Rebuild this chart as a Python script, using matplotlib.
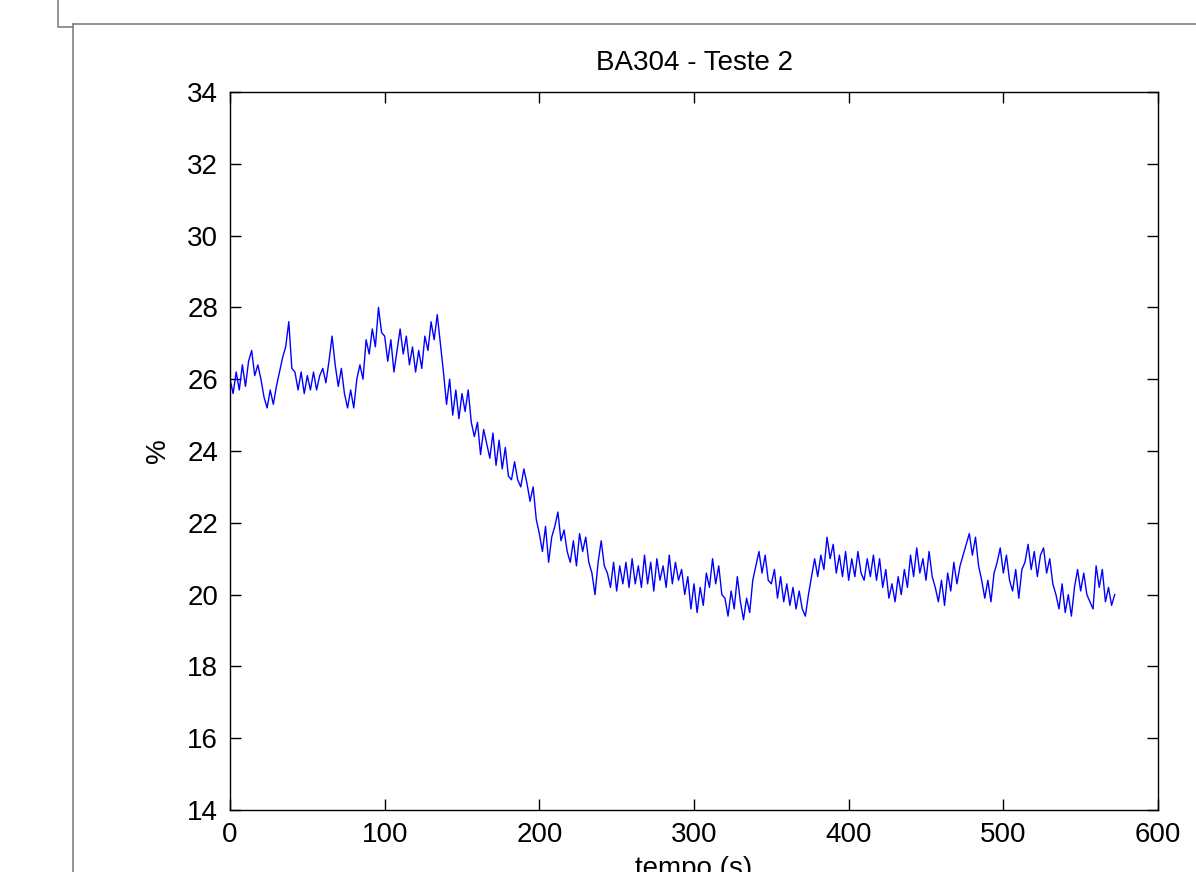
import matplotlib
matplotlib.use("Agg")
import matplotlib.pyplot as plt
from matplotlib.lines import Line2D
import numpy as np

plt.rcParams['font.family'] = ['Liberation Sans', 'DejaVu Sans']

# sampling interval (s) of the read-off series
dt = 2

# % values, one every 2 s starting at t = 0
umidade = [
    26.0, 25.6, 26.2, 25.7, 26.4, 25.8, 26.5, 26.8, 26.1, 26.4,   # 0-18
    26.0, 25.5, 25.2, 25.7, 25.3, 25.8, 26.2, 26.6, 26.9, 27.6,   # 20-38
    26.3, 26.2, 25.7, 26.2, 25.6, 26.1, 25.7, 26.2, 25.7, 26.1,   # 40-58
    26.3, 25.9, 26.5, 27.2, 26.4, 25.8, 26.3, 25.6, 25.2, 25.7,   # 60-78
    25.2, 26.0, 26.4, 26.0, 27.1, 26.7, 27.4, 26.9, 28.0, 27.3,   # 80-98
    27.2, 26.5, 27.1, 26.2, 26.8, 27.4, 26.7, 27.2, 26.4, 26.9,   # 100-118
    26.2, 26.8, 26.3, 27.2, 26.8, 27.6, 27.1, 27.8, 27.0, 26.2,   # 120-138
    25.3, 26.0, 25.0, 25.7, 24.9, 25.6, 25.1, 25.7, 24.8, 24.4,   # 140-158
    24.8, 23.9, 24.6, 24.2, 23.8, 24.5, 23.6, 24.3, 23.5, 24.1,   # 160-178
    23.3, 23.2, 23.7, 23.2, 23.0, 23.5, 23.1, 22.6, 23.0, 22.1,   # 180-198
    21.7, 21.2, 21.9, 20.9, 21.6, 21.9, 22.3, 21.5, 21.8, 21.2,   # 200-218
    20.9, 21.5, 20.8, 21.7, 21.2, 21.6, 20.9, 20.6, 20.0, 20.9,   # 220-238
    21.5, 20.8, 20.6, 20.2, 20.9, 20.1, 20.8, 20.3, 20.9, 20.2,   # 240-258
    21.0, 20.3, 20.8, 20.2, 21.1, 20.3, 20.9, 20.1, 21.0, 20.4,   # 260-278
    20.8, 20.2, 21.1, 20.3, 20.9, 20.4, 20.7, 20.0, 20.5, 19.6,   # 280-298
    20.3, 19.5, 20.2, 19.7, 20.6, 20.2, 21.0, 20.3, 20.8, 20.0,   # 300-318
    19.9, 19.4, 20.1, 19.6, 20.5, 19.8, 19.3, 19.9, 19.5, 20.4,   # 320-338
    20.8, 21.2, 20.6, 21.1, 20.4, 20.3, 20.7, 19.9, 20.5, 19.8,   # 340-358
    20.3, 19.7, 20.2, 19.6, 20.1, 19.6, 19.4, 20.0, 20.5, 21.0,   # 360-378
    20.5, 21.1, 20.7, 21.6, 21.0, 21.4, 20.6, 21.1, 20.5, 21.2,   # 380-398
    20.4, 21.0, 20.5, 21.2, 20.6, 20.4, 21.0, 20.5, 21.1, 20.4,   # 400-418
    21.0, 20.2, 20.7, 19.9, 20.3, 19.8, 20.5, 20.0, 20.7, 20.2,   # 420-438
    21.1, 20.5, 21.3, 20.6, 21.0, 20.4, 21.2, 20.5, 20.2, 19.8,   # 440-458
    20.4, 19.7, 20.6, 20.1, 20.9, 20.3, 20.8, 21.1, 21.4, 21.7,   # 460-478
    21.1, 21.6, 20.8, 20.4, 19.9, 20.4, 19.8, 20.6, 20.9, 21.3,   # 480-498
    20.6, 21.1, 20.4, 20.1, 20.7, 19.9, 20.7, 20.9, 21.4, 20.7,   # 500-518
    21.2, 20.5, 21.1, 21.3, 20.6, 21.0, 20.3, 20.0, 19.6, 20.3,   # 520-538
    19.5, 20.0, 19.4, 20.2, 20.7, 20.1, 20.6, 20.0, 19.8, 19.6,   # 540-558
    20.8, 20.2, 20.7, 19.8, 20.2, 19.7, 20.0,                     # 560-572
]
tempo = np.arange(len(umidade)) * dt

xticks = [0, 100, 200, 300, 400, 500, 600]
yticks = [14, 16, 18, 20, 22, 24, 26, 28, 30, 32, 34]

W, H = 1196, 872
fig = plt.figure(figsize=(W / 100, H / 100), dpi=100)

# window frame bits from the screenshot
def px_line(xs, ys):
    fig.add_artist(Line2D([x / W for x in xs], [1 - y / H for y in ys],
                          transform=fig.transFigure, color='#808080', lw=1.2))

px_line([58, 58, 73], [0, 27, 27])
px_line([73, 73], [H, 24])
px_line([73, W], [24, 24])

ax = fig.add_axes([230 / W, 1 - 810 / H, 928 / W, 718 / H])
ax.plot(tempo, umidade, color='#0000FF', lw=1.0)

ax.set_xlim(0, 600)
ax.set_ylim(14, 34)
ax.set_xticks(xticks)
ax.set_yticks(yticks)
ax.tick_params(direction='in', length=8, width=1, labelsize=20,
               top=True, right=True, pad=8.5, color='black')
for s in ax.spines.values():
    s.set_linewidth(1.0)

ax.set_title("BA304 - Teste 2", fontsize=20, pad=16)
ax.set_xlabel("tempo (s)", fontsize=20, labelpad=6)
ax.set_ylabel("%", fontsize=20, labelpad=12)

fig.savefig("out.png", dpi=100)
